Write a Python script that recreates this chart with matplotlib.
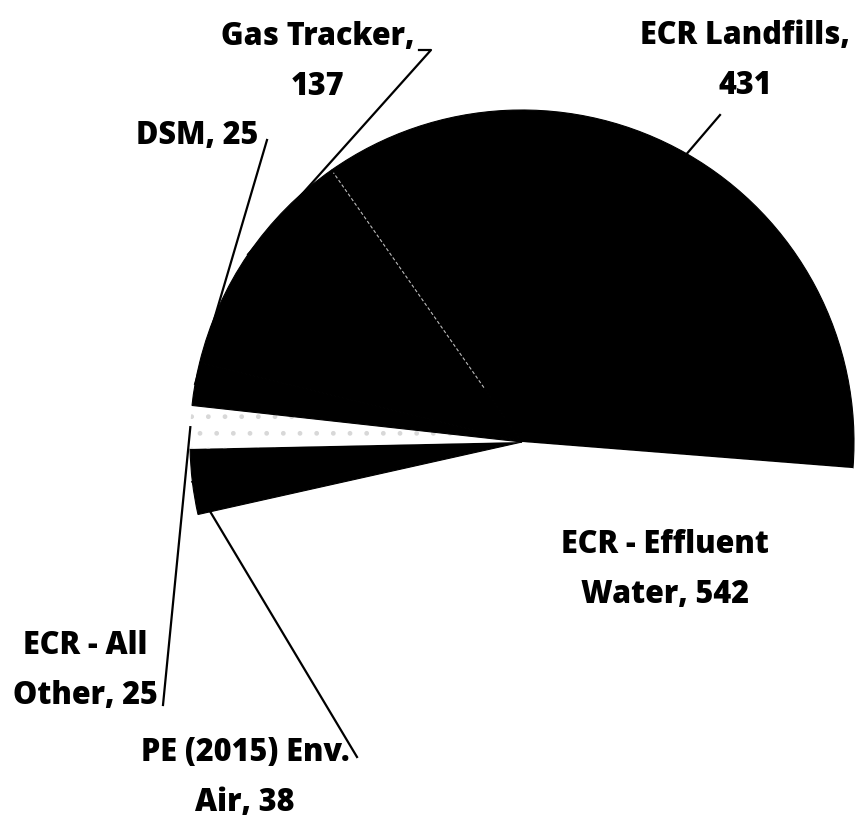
import numpy as np
import matplotlib.pyplot as plt

names = ['ECR Landfills', 'ECR - Effluent\nWater', 'PE (2015) Env.\nAir',
         'ECR - All\nOther', 'DSM', 'Gas Tracker']
values = [431, 542, 38, 25, 25, 137]
break_after_comma = [True, False, False, False, False, True]
colors = ['black', 'white', 'black', 'white', 'black', 'black']

# ------ layout (pixels, y measured from the top of the image) ------
W, H = 867, 825
cx, cy, rad = 522, 442, 332
label_pos = [(745, 61), (665, 570), (245, 778), (85, 671), (197, 136), (318, 62)]
leader_start = [[(720, 115)], None, [(357, 757)], [(163, 705)],
                [(267, 140)], [(419, 50), (431, 50)]]

plt.rcParams['font.family'] = ['Open Sans', 'DejaVu Sans']

fig = plt.figure(figsize=(W / 100, H / 100), dpi=100)
ax = fig.add_axes([0, 0, 1, 1])

wedges, _ = ax.pie(values, colors=colors, startangle=125, counterclock=False,
                   center=(cx, H - cy), radius=rad,
                   wedgeprops=dict(linewidth=0))
ax.set_xlim(0, W)
ax.set_ylim(0, H)
ax.set_aspect('equal')
ax.axis('off')

# hide the seams between neighbouring black slices
for w, c in zip(wedges, colors):
    if c == 'black':
        w.set_edgecolor('black')
        w.set_linewidth(0.8)

# light dots on the "All Other" slice (scanned look)
wedges[3].set_hatch('.')
wedges[3].set_edgecolor('#d8d8d8')

# thin dashed light line at the start of the Landfills slice
t = np.deg2rad(wedges[0].theta2)
ax.plot([cx + 0.2 * rad * np.cos(t), cx + 0.99 * rad * np.cos(t)],
        [H - cy + 0.2 * rad * np.sin(t), H - cy + 0.99 * rad * np.sin(t)],
        color='#bbbbbb', lw=0.8, linestyle=(0, (3, 2)))

# labels + leader lines
for i, w in enumerate(wedges):
    sep = ',\n' if break_after_comma[i] else ', '
    txt = f'{names[i]}{sep}{values[i]}'
    lx, ly = label_pos[i]
    ax.text(lx, H - ly, txt, ha='center', va='center', fontsize=22,
            fontweight=800, linespacing=1.78)
    if leader_start[i] is None:
        continue
    mid = np.deg2rad((w.theta1 + w.theta2) / 2)
    ex, ey = cx + rad * np.cos(mid), H - cy + rad * np.sin(mid)
    xs = [p[0] for p in leader_start[i]] + [ex]
    ys = [H - p[1] for p in leader_start[i]] + [ey]
    ax.plot(xs, ys, color='black', lw=1.6)

fig.savefig('out.png', dpi=100)
